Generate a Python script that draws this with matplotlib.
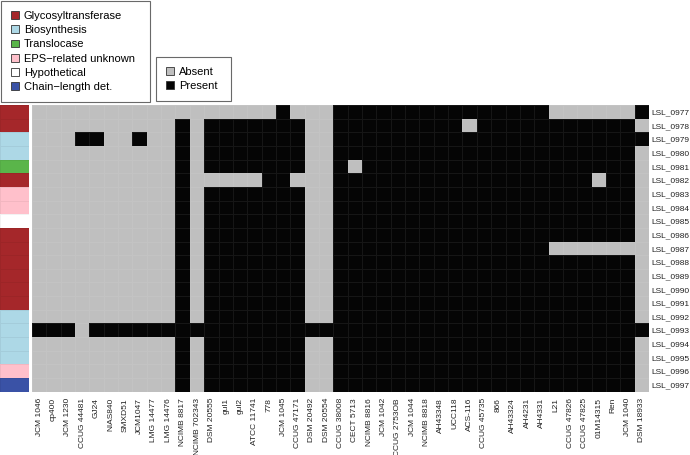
import numpy as np
import matplotlib
matplotlib.use('Agg')
import matplotlib.pyplot as plt
from matplotlib.colors import ListedColormap
from matplotlib.patches import Patch

plt.rcParams['font.family'] = ['Liberation Sans', 'DejaVu Sans']

# Strains (columns)
strains = ['JCM 1046', 'cp400', 'JCM 1230', 'CCUG 44481', 'GJ24', 'NIAS840', 'SMXD51',
           'JCM1047', 'LMG 14477', 'LMG 14476', 'NCIMB 8817', 'NCIMB 702343', 'DSM 20555',
           'gul1', 'gul2', 'ATCC 11741', '778', 'JCM 1045', 'CCUG 47171', 'DSM 20492',
           'DSM 20554', 'CCUG 38008', 'CECT 5713', 'NCIMB 8816', 'JCM 1042', 'CCUG 2753OB',
           'JCM 1044', 'NCIMB 8818', 'AH43348', 'UCC118', 'ACS-116', 'CCUG 45735', '866',
           'AH43324', 'AH4231', 'AH4331', 'L21', 'CCUG 47826', 'CCUG 47825', '01M14315',
           'Ren', 'JCM 1040', 'DSM 18933']

# Genes (rows)
genes = ['LSL_%04d' % n for n in range(977, 998)]

# Functional category of each gene
gene_category = ['Glycosyltransferase', 'Glycosyltransferase', 'Biosynthesis', 'Biosynthesis',
                 'Translocase', 'Glycosyltransferase', 'EPS\u2212related unknown',
                 'EPS\u2212related unknown', 'Hypothetical', 'Glycosyltransferase',
                 'Glycosyltransferase', 'Glycosyltransferase', 'Glycosyltransferase',
                 'Glycosyltransferase', 'Glycosyltransferase', 'Biosynthesis', 'Biosynthesis',
                 'Biosynthesis', 'Biosynthesis', 'EPS\u2212related unknown', 'Chain\u2212length det.']

categories = ['Glycosyltransferase', 'Biosynthesis', 'Translocase',
              'EPS\u2212related unknown', 'Hypothetical', 'Chain\u2212length det.']
category_colors = ['#A5272A', '#ADD8E6', '#5AB54A', '#FFC0CB', '#FFFFFF', '#3A52A6']

# Presence (1) / absence (0), one string per gene, one character per strain
presence = [
    '0000000000000000010001111111111111110000001',
    '0000000000101111111001111111110111111111110',
    '0001100100101111111001111111111111111111111',
    '0000000000101111111001111111111111111111110',
    '0000000000101111111001011111111111111111110',
    '0000000000100000110001111111111111111110110',
    '0000000000101111111001111111111111111111110',
    '0000000000101111111001111111111111111111110',
    '0000000000101111111001111111111111111111110',
    '0000000000101111111001111111111111111111110',
    '0000000000101111111001111111111111110000000',
    '0000000000101111111001111111111111111111110',
    '0000000000101111111001111111111111111111110',
    '0000000000101111111001111111111111111111110',
    '0000000000101111111001111111111111111111110',
    '0000000000101111111001111111111111111111110',
    '1110111111111111111111111111111111111111111',
    '0000000000101111111001111111111111111111110',
    '0000000000101111111001111111111111111111110',
    '0000000000101111111001111111111111111111110',
    '0000000000101111111001111111111111111111110',
]

mat = np.array([[int(c) for c in row] for row in presence])

W, H = 690, 455
fig = plt.figure(figsize=(W / 100, H / 100), dpi=100)

left, right, top, bottom = 32, 649, 105, 391.7
ax = fig.add_axes([left / W, 1 - bottom / H, (right - left) / W, (bottom - top) / H])
axc = fig.add_axes([0, 1 - bottom / H, 29.3 / W, (bottom - top) / H])

# Heatmap
ax.pcolormesh(mat, cmap=ListedColormap(['#BFBFBF', '#050505']), vmin=0, vmax=1,
              edgecolors=(1, 1, 1, 0.07), linewidth=0.5)
ax.set_xlim(0, len(strains))
ax.set_ylim(len(genes), 0)
ax.set_xticks(np.arange(len(strains)) + 0.5)
ax.set_xticklabels(strains, rotation=90, fontsize=6, color='#222222')
ax.set_yticks(np.arange(len(genes)) + 0.5)
ax.set_yticklabels(genes, fontsize=6, color='#222222')
ax.yaxis.tick_right()
ax.tick_params(axis='x', length=0, pad=4.5)
ax.tick_params(axis='y', length=0, pad=1.8)
for s in ax.spines.values():
    s.set_visible(False)

# Category side bar
cat_idx = np.array([[categories.index(c)] for c in gene_category])
axc.pcolormesh(cat_idx, cmap=ListedColormap(category_colors), vmin=-0.5,
               vmax=len(categories) - 0.5, edgecolors=(0, 0, 0, 0.05), linewidth=0.5)
axc.set_ylim(len(genes), 0)
axc.set_xlim(0, 1)
axc.axis('off')

# Legends
cat_handles = [Patch(facecolor=c, edgecolor='#333333', linewidth=0.6, label=l)
               for c, l in zip(category_colors, categories)]
leg1 = fig.legend(handles=cat_handles, loc='upper left',
                  bbox_to_anchor=(1 / W, 1 - 99 / H, 149 / W, 98 / H), mode='expand',
                  fontsize=8, frameon=True, fancybox=False, handlelength=0.7,
                  handleheight=0.7, handletextpad=0.45, labelspacing=0.38, borderpad=0.9,
                  borderaxespad=0)
leg1.get_frame().set_edgecolor('#444444')
leg1.get_frame().set_linewidth(0.8)

pa_handles = [Patch(facecolor='#BFBFBF', edgecolor='#333333', linewidth=0.6, label='Absent'),
              Patch(facecolor='#050505', edgecolor='#333333', linewidth=0.6, label='Present')]
leg2 = fig.legend(handles=pa_handles, loc='upper left',
                  bbox_to_anchor=(156 / W, 1 - 99 / H, 75 / W, 42 / H), mode='expand',
                  fontsize=8, frameon=True, fancybox=False, handlelength=0.7,
                  handleheight=0.7, handletextpad=0.45, labelspacing=0.38, borderpad=0.9,
                  borderaxespad=0)
leg2.get_frame().set_edgecolor('#444444')
leg2.get_frame().set_linewidth(0.8)

fig.savefig('out.png', dpi=100)
